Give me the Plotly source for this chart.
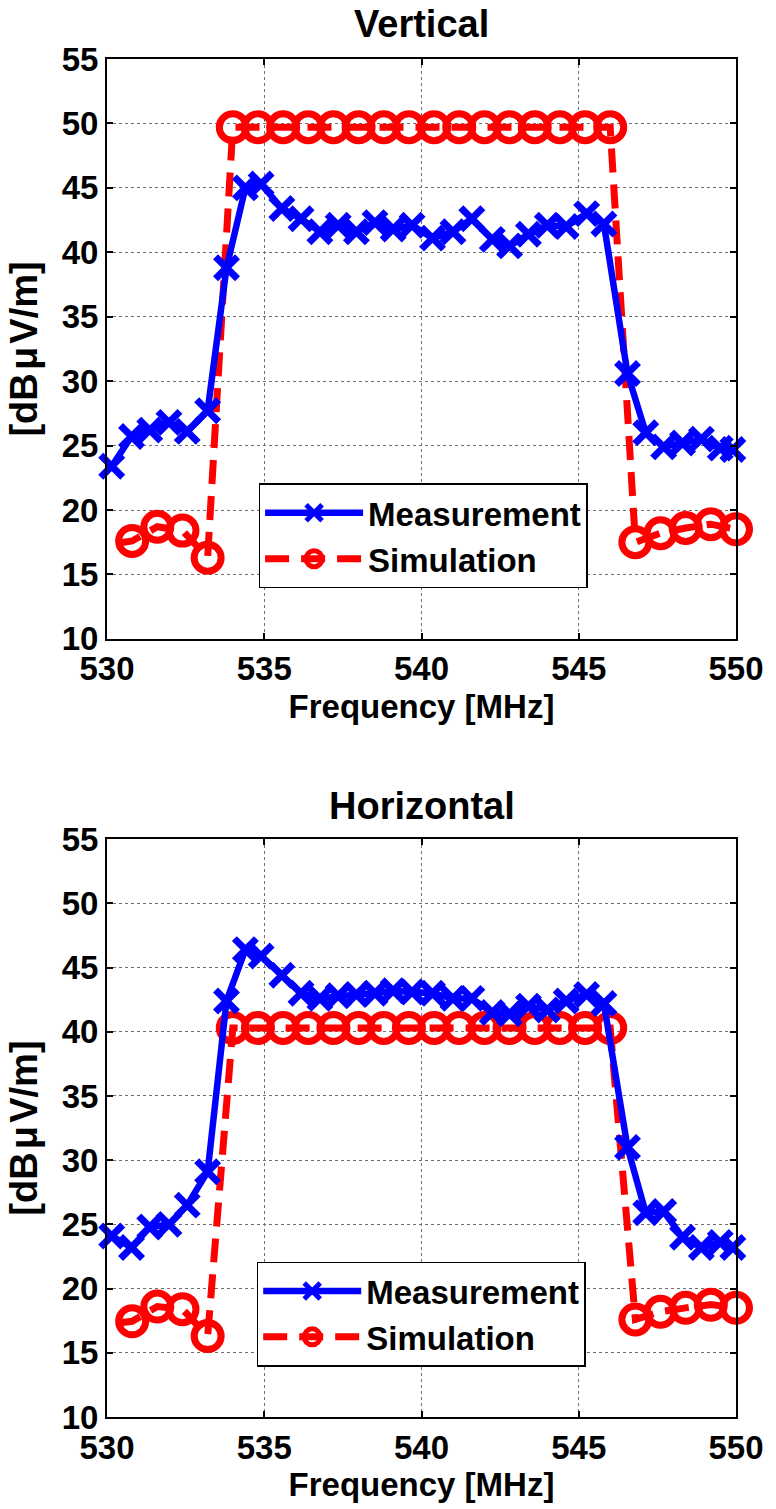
import plotly.graph_objects as go

# ---------------- data ----------------
freq = [530.15, 530.78, 531.36, 531.97, 532.55, 533.2, 533.8, 534.4, 534.9, 535.56,
        536.17, 536.77, 537.35, 537.93, 538.52, 539.1, 539.7, 540.35, 541.0, 541.6,
        542.25, 542.8, 543.4, 544.0, 544.6, 545.25, 545.8, 546.55, 547.13, 547.7,
        548.3, 548.9, 549.5, 549.9]

meas_vertical = [23.4, 25.7, 26.2, 26.8, 26.1, 27.7, 38.8, 45.0, 45.3, 43.4,
                 42.6, 41.6, 42.1, 41.6, 42.3, 41.8, 42.1, 41.1, 41.6, 42.6,
                 41.0, 40.5, 41.4, 42.1, 42.0, 43.0, 42.2, 30.6, 26.0, 24.9,
                 25.2, 25.5, 24.8, 24.7]

meas_horizontal = [24.1, 23.2, 24.8, 25.0, 26.5, 29.1, 42.4, 46.4, 45.9, 44.4,
                   43.0, 42.6, 42.8, 42.9, 43.0, 43.2, 43.1, 43.0, 42.6, 42.6,
                   41.5, 41.4, 42.0, 41.7, 42.4, 42.9, 42.2, 31.0, 25.9, 26.0,
                   24.0, 23.2, 23.6, 23.2]

sim_freq = [529.2, 530.8, 531.6, 532.4, 533.2, 534.0, 534.8, 535.6, 536.4, 537.2,
            538.0, 538.8, 539.6, 540.4, 541.2, 542.0, 542.8, 543.6, 544.4, 545.2,
            546.0, 546.8, 547.6, 548.4, 549.2, 550.0]

sim_vertical = [17.0, 17.6, 18.7, 18.4, 16.3, 49.7, 49.7, 49.7, 49.7, 49.7,
                49.7, 49.7, 49.7, 49.7, 49.7, 49.7, 49.7, 49.7, 49.7, 49.7,
                49.7, 17.5, 18.2, 18.6, 18.9, 18.5]

sim_horizontal = [17.0, 17.45, 18.6, 18.4, 16.3, 40.3, 40.3, 40.3, 40.3, 40.3,
                  40.3, 40.3, 40.3, 40.3, 40.3, 40.3, 40.3, 40.3, 40.3, 40.3,
                  40.3, 17.6, 18.2, 18.5, 18.75, 18.5]

titles = ["Vertical", "Horizontal"]
x_ticks = [530, 535, 540, 545, 550]
y_ticks = [10, 15, 20, 25, 30, 35, 40, 45, 50, 55]

# ---------------- styles ----------------
BLUE = "#0000ff"
RED = "#ff0000"
FONT = "Liberation Sans, Arial, Helvetica, sans-serif"
meas_line = dict(color=BLUE, width=6.5)
meas_marker = dict(symbol="x-thin-open", size=22, color=BLUE, line=dict(color=BLUE, width=7))
sim_line = dict(color=RED, width=7, dash="24px,12px")
sim_marker = dict(symbol="circle-open", size=27, color=RED, line=dict(color=RED, width=7))

fig = go.Figure()

panels = [
    (meas_vertical, sim_vertical, "x", "y", "legend"),
    (meas_horizontal, sim_horizontal, "x2", "y2", "legend2"),
]
for meas, sim, xa, ya, lg in panels:
    fig.add_trace(go.Scatter(x=sim_freq, y=sim, mode="lines", line=sim_line,
                             xaxis=xa, yaxis=ya, showlegend=False, hoverinfo="skip"))
    fig.add_trace(go.Scatter(x=sim_freq[1:], y=sim[1:], mode="markers", marker=sim_marker,
                             xaxis=xa, yaxis=ya, showlegend=False, cliponaxis=False))
    fig.add_trace(go.Scatter(x=freq, y=meas, mode="lines+markers", line=meas_line,
                             marker=meas_marker, name="Measurement",
                             xaxis=xa, yaxis=ya, legend=lg, cliponaxis=False))
    fig.add_trace(go.Scatter(x=[None], y=[None], mode="lines+markers", line=sim_line,
                             marker=sim_marker, name="Simulation",
                             xaxis=xa, yaxis=ya, legend=lg))

axis_common = dict(
    showline=True, linecolor="black", linewidth=2, mirror="ticks",
    ticks="inside", ticklen=6, tickwidth=2, tickcolor="black",
    showgrid=True, gridcolor="#707070", gridwidth=1, griddash="dot",
    zeroline=False,
)

xa_common = dict(axis_common, range=[530, 550], tickvals=x_ticks,
                 title=dict(text="Frequency [MHz]", standoff=8, font=dict(size=33)))
ya_common = dict(axis_common, range=[10, 55], tickvals=y_ticks,
                 title=dict(text="[dB\u200aμ\u200aV/m]", standoff=12, font=dict(size=38)))

legend_common = dict(xanchor="left", yanchor="top",
                     bgcolor="white", bordercolor="black", borderwidth=1.5,
                     itemwidth=98, font=dict(size=33), tracegroupgap=0)

fig.update_layout(
    width=776, height=1509,
    margin=dict(l=107, r=35, t=59, b=87),
    plot_bgcolor="white", paper_bgcolor="white",
    font=dict(family=FONT, size=33, color="black", weight="bold"),
    xaxis=dict(xa_common, domain=[0, 1], anchor="y"),
    yaxis=dict(ya_common, domain=[0.573, 1], anchor="x"),
    xaxis2=dict(xa_common, domain=[0, 1], anchor="y2"),
    yaxis2=dict(ya_common, domain=[0, 0.4255], anchor="x2"),
    legend=dict(legend_common, x=0.241, y=0.6875),
    legend2=dict(legend_common, x=0.238, y=0.1145),
    showlegend=True,
    annotations=[
        dict(text=titles[0], x=0.5, y=1, xref="paper", yref="paper",
             xanchor="center", yanchor="bottom", yshift=12, showarrow=False,
             font=dict(size=38)),
        dict(text=titles[1], x=0.5, y=0.4255, xref="paper", yref="paper",
             xanchor="center", yanchor="bottom", yshift=10, showarrow=False,
             font=dict(size=38)),
    ],
)

fig.write_html("out.html")
